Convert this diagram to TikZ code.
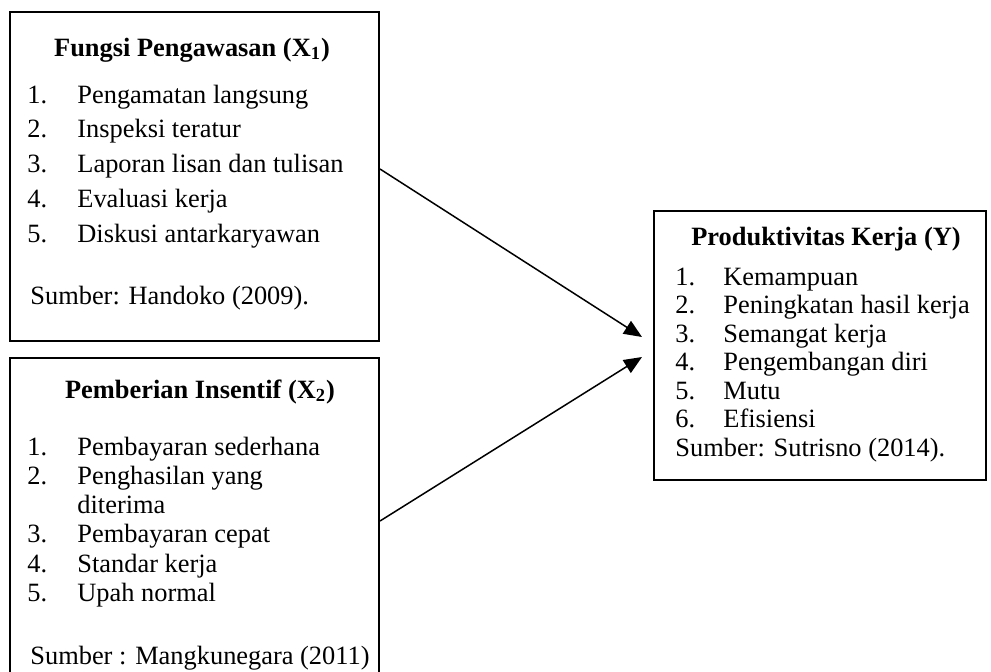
\documentclass[tikz,border=0pt]{standalone}
\usepackage{fontspec}
\setmainfont{Liberation Serif}
\usetikzlibrary{arrows.meta}
\usetikzlibrary{positioning}

\begin{document}
\begin{tikzpicture}[x=0.5pt, y=-0.5pt,
    box/.style={draw, line width=1pt, inner sep=0pt, anchor=north west},
    txt/.style={anchor=base west, inner sep=0pt, font=\fontsize{13.2}{15}\selectfont},
    judul/.style={anchor=base, inner sep=0pt, font=\fontsize{13.2}{15}\selectfont\bfseries},
    panah/.style={-{Triangle[length=9pt,width=7.5pt]}, line width=0.75pt}]
    \clip (0,0) rectangle (991,671);

    % kotak X1
    \node[box, minimum width=184.5pt, minimum height=164.5pt] (x1) at (9,11) {};
    \node[judul] (x1judul) at (192,56) {Fungsi Pengawasan (X\textsubscript{1})};
    \foreach \t [count=\k] in {Pengamatan langsung, Inspeksi teratur, Laporan lisan dan tulisan, Evaluasi kerja, Diskusi antarkaryawan} {
        \node[txt] (x1no\k) at (27, 68.25+34.75*\k) {\k.};
        \node[txt] (x1item\k) at (77, 68.25+34.75*\k) {\t};
    }
    \node[txt] (x1sumber) at (30,304) {Sumber: Handoko (2009).};

    % kotak X2
    \node[box, minimum width=184.5pt, minimum height=171.5pt] (x2) at (9,357) {};
    \node[judul] (x2judul) at (200,398) {Pemberian Insentif (X\textsubscript{2})};
    \node[txt] (x2no1) at (27,455) {1.};
    \node[txt] (x2item1) at (77,455) {Pembayaran sederhana};
    \node[txt] (x2no2) at (27,484.3) {2.};
    \node[txt] (x2item2) at (77,484.3) {Penghasilan yang};
    \node[txt] (x2item2b) at (77,513.6) {diterima};
    \foreach \t [count=\k from 3] in {Pembayaran cepat, Standar kerja, Upah normal} {
        \node[txt] (x2no\k) at (27, 455+29.3*\k) {\k.};
        \node[txt] (x2item\k) at (77, 455+29.3*\k) {\t};
    }
    \node[txt] (x2sumber) at (30,664) {Sumber : Mangkunegara (2011)};

    % kotak Y
    \node[box, minimum width=166pt, minimum height=134.5pt] (y) at (653,210) {};
    \node[judul] (yjudul) at (826,245) {Produktivitas Kerja (Y)};
    \foreach \t [count=\k] in {Kemampuan, Peningkatan hasil kerja, Semangat kerja, Pengembangan diri, Mutu, Efisiensi} {
        \node[txt] (yno\k) at (675, 256.5+28.5*\k) {\k.};
        \node[txt] (yitem\k) at (723, 256.5+28.5*\k) {\t};
    }
    \node[txt] (ysumber) at (675,456) {Sumber: Sutrisno (2014).};

    % panah
    \coordinate (masuk1) at (642,337);
    \coordinate (masuk2) at (642,357);
    \draw[panah] ([yshift=3.75pt]x1.east) -- (masuk1);
    \draw[panah] ([yshift=4.25pt]x2.east) -- (masuk2);
\end{tikzpicture}
\end{document}
